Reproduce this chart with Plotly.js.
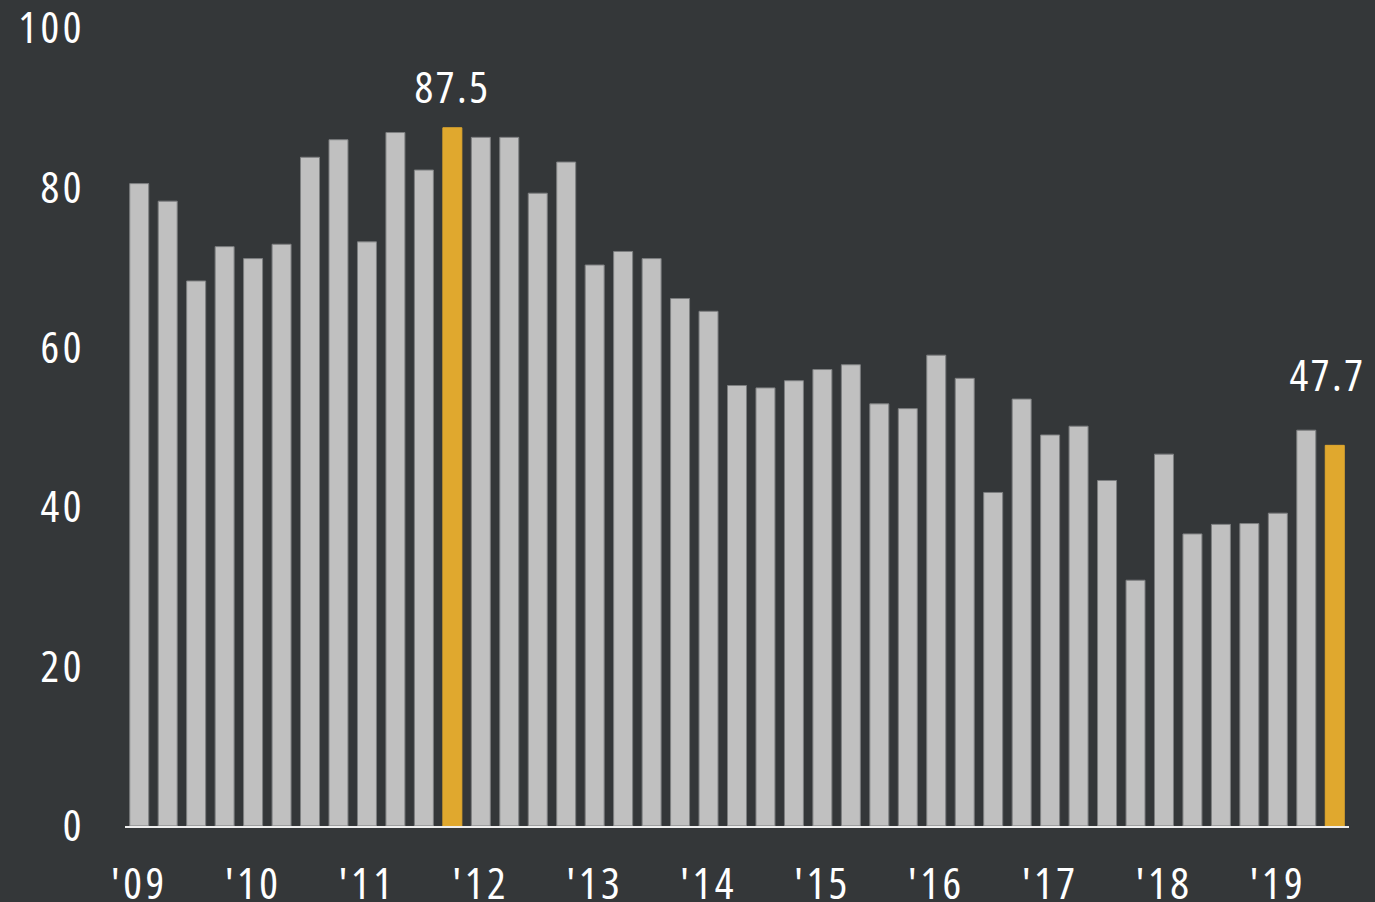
<!DOCTYPE html>
<html>
<head>
<meta charset="utf-8">
<script src="https://cdn.plot.ly/plotly-3.0.1.min.js"></script>
<style>
  html, body { margin: 0; padding: 0; background: #343739; }
  #chart { width: 1375px; height: 902px; }
  /* condensed face for every label in the chart, opened up a little */
  #chart svg text { font-stretch: condensed; }
  #chart .xtick text, #chart .ytick text { letter-spacing: 3.5px; }
  #chart .annotation-text { letter-spacing: 2.5px; }
</style>
</head>
<body>
<div id="chart"></div>
<script>
// Quarterly readings, Q1 2009 through Q3 2019
const quarters = [
  "2009 Q1","2009 Q2","2009 Q3","2009 Q4",
  "2010 Q1","2010 Q2","2010 Q3","2010 Q4",
  "2011 Q1","2011 Q2","2011 Q3","2011 Q4",
  "2012 Q1","2012 Q2","2012 Q3","2012 Q4",
  "2013 Q1","2013 Q2","2013 Q3","2013 Q4",
  "2014 Q1","2014 Q2","2014 Q3","2014 Q4",
  "2015 Q1","2015 Q2","2015 Q3","2015 Q4",
  "2016 Q1","2016 Q2","2016 Q3","2016 Q4",
  "2017 Q1","2017 Q2","2017 Q3","2017 Q4",
  "2018 Q1","2018 Q2","2018 Q3","2018 Q4",
  "2019 Q1","2019 Q2","2019 Q3"
];

const values = [
  80.5, 78.3, 68.3, 72.6,
  71.1, 72.9, 83.8, 86.0,
  73.2, 86.9, 82.2, 87.5,
  86.3, 86.3, 79.3, 83.2,
  70.3, 72.0, 71.1, 66.1,
  64.5, 55.2, 54.9, 55.8,
  57.2, 57.8, 52.9, 52.3,
  59.0, 56.1, 41.8, 53.5,
  49.0, 50.1, 43.3, 30.8,
  46.6, 36.6, 37.8, 37.9,
  39.2, 49.6, 47.7
];

// Bars singled out with a colour and a value label
const highlighted = ["2011 Q4", "2019 Q3"];

// Year ticks sit on each first quarter
const tickQuarters = ["2009 Q1","2010 Q1","2011 Q1","2012 Q1","2013 Q1","2014 Q1",
                      "2015 Q1","2016 Q1","2017 Q1","2018 Q1","2019 Q1"];
const tickLabels = ["'09","'10","'11","'12","'13","'14","'15","'16","'17","'18","'19"];

const yTicks = [0, 20, 40, 60, 80, 100];

const GREY = '#c0c0c0';
const GREY_EDGE = '#7d7f80';
const GOLD = '#e0a82e';
const BG = '#343739';
const FONT = '"Open Sans", "DejaVu Sans Condensed", sans-serif';

const fills = quarters.map(q => highlighted.includes(q) ? GOLD : GREY);
const edges = quarters.map(q => highlighted.includes(q) ? GOLD : GREY_EDGE);

const trace = {
  type: 'bar',
  x: quarters,
  y: values,
  marker: { color: fills, line: { color: edges, width: 1 } },
  hoverinfo: 'x+y'
};

// Label offsets for the two highlighted bars
const labelShift = { "2011 Q4": { x: 0, y: 10 }, "2019 Q3": { x: -7, y: 39 } };

const annotations = highlighted.map(q => {
  const i = quarters.indexOf(q);
  return {
    x: q, y: values[i], xref: 'x', yref: 'y',
    text: values[i].toFixed(1),
    showarrow: false,
    xanchor: 'center', yanchor: 'bottom',
    xshift: labelShift[q].x, yshift: labelShift[q].y,
    font: { family: FONT, size: 44, color: '#ffffff', weight: 500 }
  };
});

const tickFont = { family: FONT, size: 44, color: '#ffffff', weight: 400 };

const layout = {
  width: 1375, height: 902,
  paper_bgcolor: BG, plot_bgcolor: BG,
  margin: { l: 125, r: 26, t: 28, b: 76 },
  bargap: 0.333,
  showlegend: false,
  font: { family: FONT, color: '#ffffff' },
  xaxis: {
    type: 'category',
    categoryorder: 'array',
    categoryarray: quarters,
    tickmode: 'array',
    tickvals: tickQuarters,
    ticktext: tickLabels,
    tickfont: tickFont,
    ticks: '', ticklabelstandoff: 18,
    ticklabeloverflow: 'allow',
    showline: true, linecolor: '#eeeeee', linewidth: 2,
    showgrid: false, zeroline: false,
    range: [-0.5, quarters.length - 0.5]
  },
  yaxis: {
    range: [0, 100],
    tickmode: 'array',
    tickvals: yTicks,
    ticktext: yTicks.map(String),
    tickfont: tickFont,
    ticks: '', ticklabelstandoff: 39,
    ticklabeloverflow: 'allow',
    showgrid: false, zeroline: false, showline: false
  },
  annotations: annotations
};

Plotly.newPlot('chart', [trace], layout, { displayModeBar: false, staticPlot: true });
</script>
</body>
</html>
